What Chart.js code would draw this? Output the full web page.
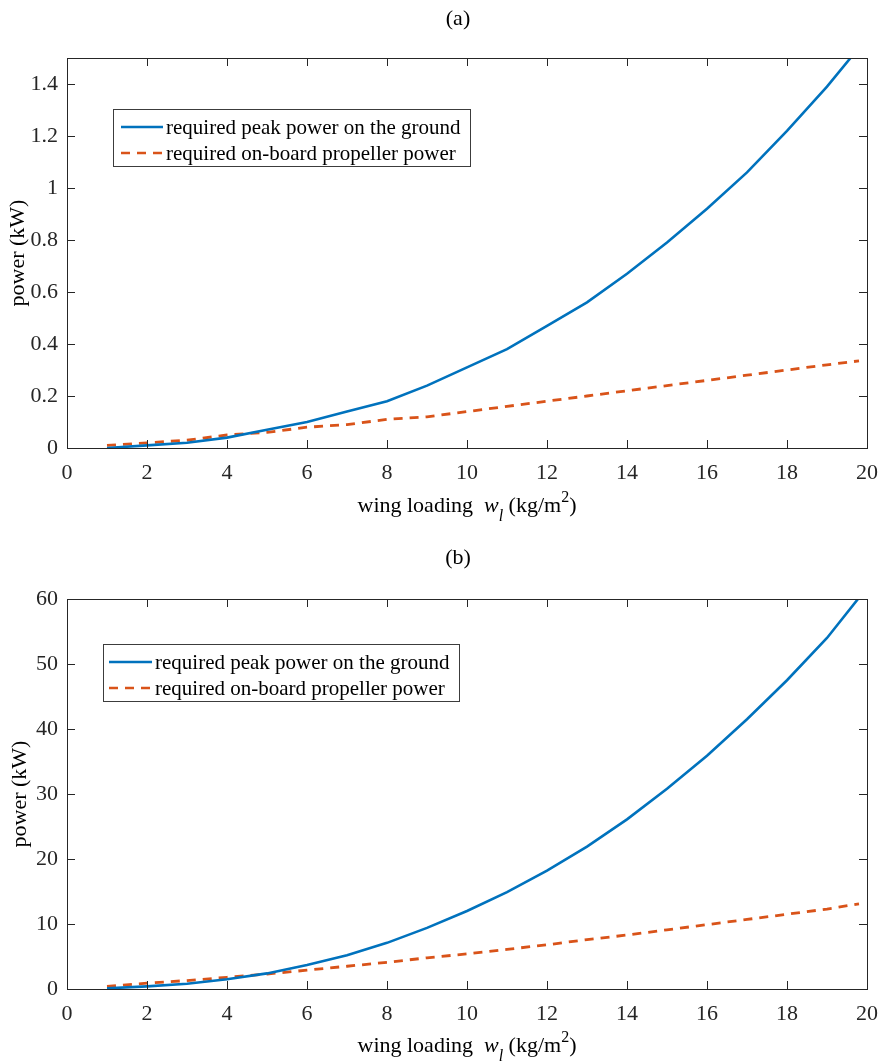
<!DOCTYPE html>
<html>
<head>
<meta charset="utf-8">
<script src="https://cdn.jsdelivr.net/npm/chart.js@4"></script>
<style>
  body { margin: 0; background: #fff; }
  .panel { position: absolute; left: 0; }
  #panelA { top: 0; }
  #panelB { top: 531px; }
</style>
</head>
<body>
<div class="panel" id="panelA"><canvas id="chartA" width="882" height="531"></canvas></div>
<div class="panel" id="panelB"><canvas id="chartB" width="882" height="532"></canvas></div>
<script>
// wing loading (kg/m^2)
const wingLoading = [1, 2, 3, 4, 5, 6, 7, 8, 9, 10, 11, 12, 13, 14, 15, 16, 17, 18, 19, 19.8];

// panel (a), kW
const peakPowerA = [0.00, 0.01, 0.02, 0.04, 0.07, 0.10, 0.14, 0.18, 0.24, 0.31, 0.38, 0.47, 0.56, 0.67, 0.79, 0.92, 1.06, 1.22, 1.39, 1.54];
const propPowerA = [0.01, 0.02, 0.03, 0.05, 0.06, 0.08, 0.09, 0.11, 0.12, 0.14, 0.16, 0.18, 0.20, 0.22, 0.24, 0.26, 0.28, 0.30, 0.32, 0.335];

// panel (b), kW
const peakPowerB = [0.1, 0.4, 0.8, 1.5, 2.4, 3.7, 5.2, 7.1, 9.4, 12.0, 14.9, 18.2, 21.9, 26.1, 30.8, 35.9, 41.5, 47.5, 54.0, 60.2];
const propPowerB = [0.4, 0.9, 1.3, 1.8, 2.3, 2.9, 3.5, 4.1, 4.8, 5.4, 6.1, 6.8, 7.6, 8.3, 9.1, 9.9, 10.7, 11.5, 12.3, 13.1];

const seriesNames = ["required peak power on the ground", "required on-board propeller power"];
const panelTitles = ["(a)", "(b)"];

const FONT = "'Liberation Serif', 'Times New Roman', serif";
const BLUE = "#0072BD";
const ORANGE = "#D95319";
const AXIS = "#262626";

function pairs(ys) {
  return ys.map((y, i) => ({ x: wingLoading[i], y: y }));
}

// box around the plot with inward ticks on all four sides
const boxTicks = {
  id: "boxTicks",
  afterDraw(chart) {
    const { ctx, chartArea: a, scales } = chart;
    ctx.save();
    ctx.strokeStyle = AXIS;
    ctx.lineWidth = 1;
    ctx.beginPath();
    scales.x.ticks.forEach(t => {
      const px = Math.round(scales.x.getPixelForValue(t.value)) + 0.5;
      ctx.moveTo(px, a.bottom); ctx.lineTo(px, a.bottom - 8);
      ctx.moveTo(px, a.top); ctx.lineTo(px, a.top + 8);
    });
    scales.y.ticks.forEach(t => {
      const py = Math.round(scales.y.getPixelForValue(t.value)) + 0.5;
      ctx.moveTo(a.left, py); ctx.lineTo(a.left + 8, py);
      ctx.moveTo(a.right, py); ctx.lineTo(a.right - 8, py);
    });
    ctx.stroke();
    ctx.strokeRect(Math.round(a.left) + 0.5, Math.round(a.top) + 0.5,
      Math.round(a.right - a.left), Math.round(a.bottom - a.top));
    ctx.restore();
  }
};

// panel title and axis titles (x title has italic w, subscript l, superscript 2)
const axisTitles = {
  id: "axisTitles",
  afterDraw(chart, args, opts) {
    const { ctx, chartArea: a } = chart;
    ctx.save();
    ctx.fillStyle = "#000";
    ctx.textBaseline = "middle";
    ctx.textAlign = "center";
    ctx.font = "22px " + FONT;
    ctx.fillText(opts.title, opts.titleX, opts.titleY);

    ctx.textBaseline = "alphabetic";
    ctx.save();
    ctx.translate(opts.yTitleX, (a.top + a.bottom) / 2);
    ctx.rotate(-Math.PI / 2);
    ctx.textAlign = "center";
    ctx.font = "22px " + FONT;
    ctx.fillText("power (kW)", 0, 8);
    ctx.restore();

    const parts = [
      { t: "wing loading  ", f: "22px " + FONT, dy: 0 },
      { t: "w", f: "italic 22px " + FONT, dy: 0 },
      { t: "l", f: "italic 16px " + FONT, dy: 9 },
      { t: " (kg/m", f: "22px " + FONT, dy: 0 },
      { t: "2", f: "16px " + FONT, dy: -10 },
      { t: ")", f: "22px " + FONT, dy: 0 }
    ];
    let total = 0;
    parts.forEach(p => { ctx.font = p.f; p.w = ctx.measureText(p.t).width; total += p.w; });
    let x = (a.left + a.right) / 2 - total / 2;
    const base = a.bottom + opts.xTitleOffset;
    ctx.textAlign = "left";
    parts.forEach(p => {
      ctx.font = p.f;
      ctx.fillText(p.t, x, base + p.dy);
      x += p.w;
    });
    ctx.restore();
  }
};

// legend box drawn inside the plot area
const boxLegend = {
  id: "boxLegend",
  afterDraw(chart, args, opts) {
    const { ctx } = chart;
    const { x, y, w, h, lineX0, lineX1, textX } = opts;
    ctx.save();
    ctx.fillStyle = "#fff";
    ctx.fillRect(x, y, w, h);
    ctx.strokeStyle = "#3c3c3c";
    ctx.lineWidth = 1;
    ctx.strokeRect(x + 0.5, y + 0.5, w, h);
    ctx.font = "21px " + FONT;
    ctx.textBaseline = "middle";
    ctx.fillStyle = "#000";
    chart.data.datasets.forEach((ds, i) => {
      const cy = y + 18 + i * 26;
      ctx.strokeStyle = ds.borderColor;
      ctx.lineWidth = 2.5;
      ctx.setLineDash(ds.borderDash || []);
      ctx.beginPath();
      ctx.moveTo(lineX0, cy);
      ctx.lineTo(lineX1, cy);
      ctx.stroke();
      ctx.setLineDash([]);
      ctx.fillText(ds.label, textX, cy + 1);
    });
    ctx.restore();
  }
};

function makeChart(canvasId, title, peak, prop, yMax, yStep, topPad, xHeight, legendOpts, titleOpts) {
  const ctx = document.getElementById(canvasId).getContext("2d");
  return new Chart(ctx, {
    type: "line",
    data: {
      datasets: [
        {
          label: seriesNames[0],
          data: pairs(peak),
          borderColor: BLUE,
          borderWidth: 2.6,
          pointRadius: 0,
          tension: 0,
          fill: false
        },
        {
          label: seriesNames[1],
          data: pairs(prop),
          borderColor: ORANGE,
          borderWidth: 2.8,
          borderDash: [9, 7],
          pointRadius: 0,
          tension: 0,
          fill: false
        }
      ]
    },
    options: {
      responsive: false,
      animation: false,
      devicePixelRatio: 1,
      layout: { padding: { left: 0, right: 8, top: topPad, bottom: 0 } },
      plugins: {
        legend: { display: false },
        tooltip: { enabled: false },
        title: { display: false },
        boxLegend: legendOpts,
        axisTitles: Object.assign({ title: title }, titleOpts)
      },
      scales: {
        x: {
          type: "linear",
          min: 0,
          max: 20,
          grid: { display: false },
          border: { display: false },
          ticks: {
            stepSize: 2,
            padding: 4,
            color: "#262626",
            font: { family: FONT, size: 22 },
            maxRotation: 0
          },
          afterFit(scale) { scale.height = xHeight; }
        },
        y: {
          type: "linear",
          min: 0,
          max: yMax,
          grid: { display: false },
          border: { display: false },
          ticks: {
            stepSize: yStep,
            includeBounds: false,
            padding: 1,
            color: "#262626",
            font: { family: FONT, size: 22 },
            callback: v => String(Math.round(v * 10) / 10)
          },
          afterFit(scale) { scale.width = 67; }
        }
      }
    },
    plugins: [boxTicks, axisTitles, boxLegend]
  });
}

makeChart("chartA", panelTitles[0], peakPowerA, propPowerA, 1.5, 0.2, 58, 83,
  { x: 113, y: 109, w: 357, h: 57, lineX0: 121, lineX1: 163, textX: 166 },
  { titleX: 458, titleY: 19, yTitleX: 16, xTitleOffset: 64 });

makeChart("chartB", panelTitles[1], peakPowerB, propPowerB, 60, 10, 68, 74,
  { x: 103, y: 644 - 531, w: 356, h: 57, lineX0: 109, lineX1: 152, textX: 155 },
  { titleX: 458, titleY: 27, yTitleX: 18, xTitleOffset: 63 });
</script>
</body>
</html>
